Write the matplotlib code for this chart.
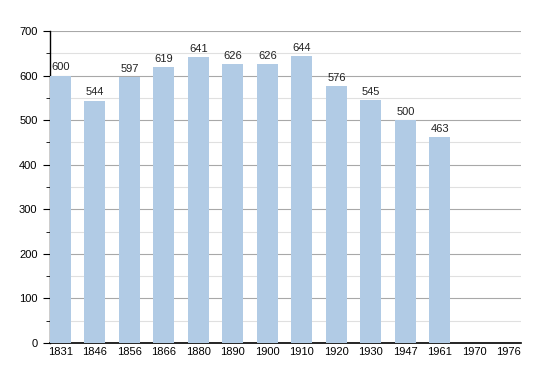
import numpy as np
import matplotlib
matplotlib.use("Agg")
import matplotlib.pyplot as plt
from matplotlib.ticker import MultipleLocator

years = ["1831", "1846", "1856", "1866", "1880", "1890", "1900", "1910",
         "1920", "1930", "1947", "1961", "1970", "1976"]
population = [600, 544, 597, 619, 641, 626, 626, 644, 576, 545, 500, 463, None, None]

plt.rcParams['font.family'] = ['Liberation Sans', 'DejaVu Sans']

fig = plt.figure(figsize=(5.5, 3.73), dpi=100)
ax = fig.add_axes([50 / 550, 1 - 343 / 373, 471 / 550, 312 / 373])

x = np.arange(len(years))
vals = [v if v is not None else 0 for v in population]
ax.bar(x, vals, width=0.61, color='#b1cbe5', zorder=3)

for xi, v in zip(x, population):
    if v is not None:
        ax.text(xi, v + 7, str(v), ha='center', va='bottom', fontsize=8, color='#222222', zorder=4)

ax.set_xlim(-0.30, 13.35)
ax.set_ylim(0, 700)
ax.yaxis.set_major_locator(MultipleLocator(100))
ax.yaxis.set_minor_locator(MultipleLocator(50))
ax.grid(axis='y', which='major', color='#a8a8a8', linewidth=0.8, zorder=0)
ax.grid(axis='y', which='minor', color='#e0e0e0', linewidth=0.8, zorder=0)

ax.set_xticks(x)
ax.set_xticklabels(years)
ax.tick_params(axis='x', length=0, labelsize=8, pad=3)
ax.tick_params(axis='y', which='major', length=5, labelsize=8, pad=4)
ax.tick_params(axis='y', which='minor', length=3)

for s in ['top', 'right']:
    ax.spines[s].set_visible(False)
ax.spines['left'].set_linewidth(1.0)
ax.spines['bottom'].set_linewidth(1.2)

fig.savefig("out.png", dpi=100)
